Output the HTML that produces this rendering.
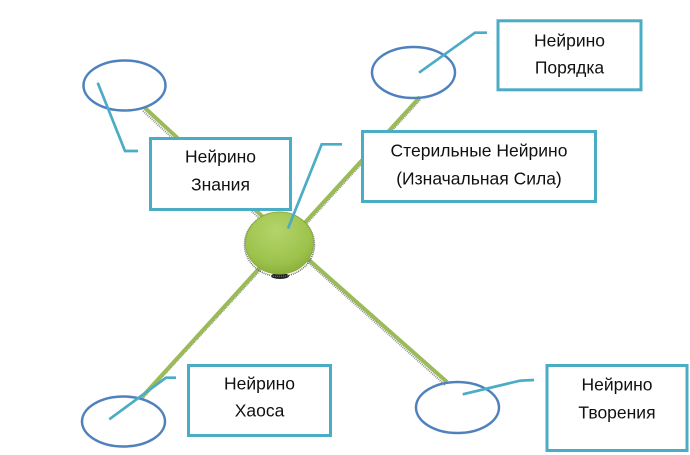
<!DOCTYPE html>
<html><head><meta charset="utf-8"><style>
html,body{margin:0;padding:0;background:#fff;}
svg{display:block;}
text{font-family:"Liberation Sans","DejaVu Sans",sans-serif;font-size:17.5px;fill:#111;text-anchor:middle;}
</style></head><body>
<svg width="690" height="455" viewBox="0 0 690 455" xmlns="http://www.w3.org/2000/svg">
<defs>
<radialGradient id="bg" cx="0.45" cy="0.3" r="0.75">
<stop offset="0" stop-color="#b4d46a"/>
<stop offset="0.7" stop-color="#9dc24c"/>
<stop offset="1" stop-color="#86ac36"/>
</radialGradient>
</defs>
<rect width="690" height="455" fill="#fff"/>
<!-- shadows of green lines -->
<g stroke="#777" stroke-width="2" stroke-dasharray="1 1" fill="none" opacity="0.8">
<line x1="143" y1="111" x2="273" y2="231"/>
<line x1="420" y1="100" x2="300" y2="231"/>
<line x1="141" y1="400" x2="265" y2="265"/>
<line x1="445" y1="385" x2="300" y2="255"/>
</g>
<!-- green lines -->
<g stroke="#9bbb59" stroke-width="4" stroke-linecap="butt" fill="none">
<line x1="145" y1="108" x2="275" y2="228"/>
<line x1="420" y1="97" x2="300" y2="228"/>
<line x1="142" y1="397" x2="265" y2="262"/>
<line x1="447" y1="382" x2="300" y2="252"/>
</g>
<!-- ball -->
<ellipse cx="280" cy="276" rx="9" ry="3" fill="#222"/>
<ellipse cx="279.5" cy="244.5" rx="35" ry="32" fill="none" stroke="#666" stroke-width="1.5" stroke-dasharray="1 1"/>
<ellipse cx="279.5" cy="243" rx="34" ry="31" fill="url(#bg)" stroke="#8aae40" stroke-width="1"/>
<!-- ellipses -->
<g fill="#fff" fill-opacity="0" stroke="#4f81bd" stroke-width="2.5">
<ellipse cx="124.5" cy="85.5" rx="41" ry="25"/>
<ellipse cx="413.5" cy="72.5" rx="41.5" ry="25.5"/>
<ellipse cx="123.5" cy="421.5" rx="41.5" ry="25"/>
<ellipse cx="457.5" cy="407.5" rx="41.5" ry="25.5"/>
</g>
<!-- boxes -->
<g fill="#fff" stroke="#4bacc6" stroke-width="3">
<rect x="150.5" y="138.5" width="140" height="71"/>
<rect x="362.5" y="131.5" width="233" height="70"/>
<rect x="498" y="20.8" width="143" height="69"/>
<rect x="188.5" y="365.5" width="142" height="70"/>
<rect x="547" y="365.5" width="140" height="85"/>
</g>
<!-- callout lines -->
<g stroke="#4bacc6" stroke-width="2.7" fill="none" stroke-linejoin="miter">
<polyline points="97.7,82.7 125,151 138,151"/>
<polyline points="419,72.7 475,32.7 487,32.7"/>
<polyline points="288,228.5 321.7,144.3 342,144.3"/>
<polyline points="109.3,419.3 166,377.7 176,377.7"/>
<polyline points="462.7,394.3 520,380.7 534,380"/>
</g>
<!-- texts -->
<text x="220.5" y="162.5">Нейрино</text>
<text x="220.5" y="190.5">Знания</text>
<text x="479" y="156.5">Стерильные Нейрино</text>
<text x="479" y="184.3">(Изначальная Сила)</text>
<text x="569.5" y="46.7">Нейрино</text>
<text x="569.5" y="73.3">Порядка</text>
<text x="259.5" y="389.3">Нейрино</text>
<text x="259.5" y="416.7">Хаоса</text>
<text x="617" y="390.7">Нейрино</text>
<text x="617" y="418.3">Творения</text>
</svg>
</body></html>
